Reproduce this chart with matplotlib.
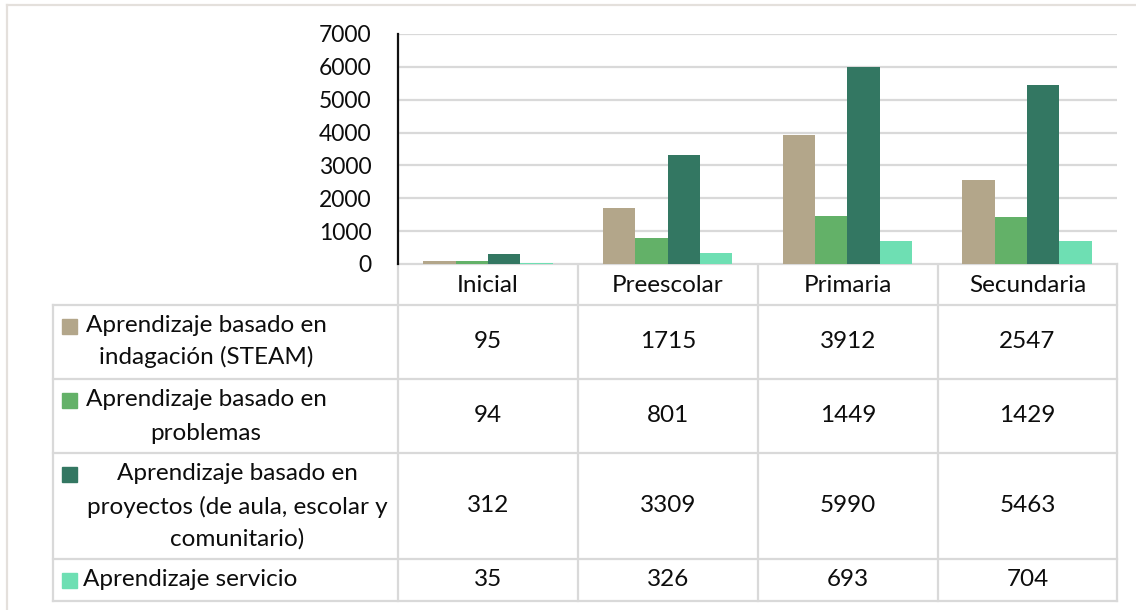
import matplotlib
matplotlib.use("Agg")
import matplotlib.pyplot as plt
from matplotlib.patches import Rectangle

plt.rcParams['font.family'] = ['Lato', 'DejaVu Sans']

categories = ["Inicial", "Preescolar", "Primaria", "Secundaria"]
series_names = [
    "Aprendizaje basado en\nindagación (STEAM)",
    "Aprendizaje basado en\nproblemas",
    "Aprendizaje basado en\nproyectos (de aula, escolar y\ncomunitario)",
    "Aprendizaje servicio",
]
steam = [95, 1715, 3912, 2547]
problemas = [94, 801, 1449, 1429]
proyectos = [312, 3309, 5990, 5463]
servicio = [35, 326, 693, 704]
series_values = [steam, problemas, proyectos, servicio]
colors = ["#B3A68A", "#63B168", "#337762", "#6EDFB3"]
yticks = [0, 1000, 2000, 3000, 4000, 5000, 6000, 7000]

W, H = 1136, 610
fig = plt.figure(figsize=(W / 100, H / 100), dpi=100)
fig.patch.set_facecolor("white")

FS = 17.5
TXT = "#0D0D0D"

# pixel layout
ax_l, ax_r, ax_t, ax_b = 398, 1117, 34, 264
ax = fig.add_axes([ax_l / W, 1 - ax_b / H, (ax_r - ax_l) / W, (ax_b - ax_t) / H])
n = len(categories)
bw = 0.18
for i, (vals, c) in enumerate(zip(series_values, colors)):
    xs = [k + (i - 1.5) * bw for k in range(n)]
    ax.bar(xs, vals, width=bw, color=c, zorder=3)
ax.set_xlim(-0.5, n - 0.5)
ax.set_ylim(0, 7000)
ax.set_yticks(yticks)
ax.set_yticklabels([str(v) for v in yticks], fontsize=16.5, color=TXT)
ax.tick_params(axis="y", length=0, pad=19)
ax.set_xticks([])
ax.grid(axis="y", color="#D9D9D9", lw=1.6, zorder=0)
for s in ["top", "right", "bottom"]:
    ax.spines[s].set_visible(False)
ax.spines["left"].set_color("#111111")
ax.spines["left"].set_linewidth(1.6)
ax.spines["left"].set_zorder(4)

# overlay for table in pixel coordinates
ov = fig.add_axes([0, 0, 1, 1], zorder=-1)
ov.set_xlim(0, W)
ov.set_ylim(H, 0)
ov.axis("off")

gc = "#D9D9D9"
lw = 1.6
# outer frame
ov.plot([7, W], [5, 5], color="#E4E0DC", lw=1.6)
ov.plot([7, 7], [5, H], color="#E4E0DC", lw=1.6)

col_x = [398, 578, 758, 938, 1117]
row_y = [305, 379, 453, 559, 601]
table_left = 53
# header row
ov.plot([ax_l, ax_r], [264, 264], color=gc, lw=lw)
for x in col_x:
    ov.plot([x, x], [264, row_y[-1]], color=gc, lw=lw)
ov.plot([table_left, table_left], [row_y[0], row_y[-1]], color=gc, lw=lw)
for y in row_y:
    ov.plot([table_left, ax_r], [y, y], color=gc, lw=lw)

for j, cat in enumerate(categories):
    ov.text((col_x[j] + col_x[j + 1]) / 2, 285, cat, ha="center", va="center",
            fontsize=FS, color=TXT)

# label layout per row: (center x or left x, align, line y list, square y)
line_cfg = [
    (206, "center", [325, 357], 326),
    (206, "center", [399, 433], 400),
    (237, "center", [474, 507, 539], 474),
    (83, "left", [580], 580),
]
for i, name in enumerate(series_names):
    cx, ha, ys, sq_y = line_cfg[i]
    ov.add_patch(Rectangle((62, sq_y - 7.5), 15, 15, color=colors[i]))
    for line, y in zip(name.split("\n"), ys):
        ov.text(cx, y, line, ha=ha, va="center", fontsize=FS, color=TXT)
    ymid = (row_y[i] + row_y[i + 1]) / 2
    for j, v in enumerate(series_values[i]):
        ov.text((col_x[j] + col_x[j + 1]) / 2, ymid, str(v), ha="center", va="center",
                fontsize=FS, color=TXT)

fig.savefig("out.png", dpi=100, facecolor="white")
